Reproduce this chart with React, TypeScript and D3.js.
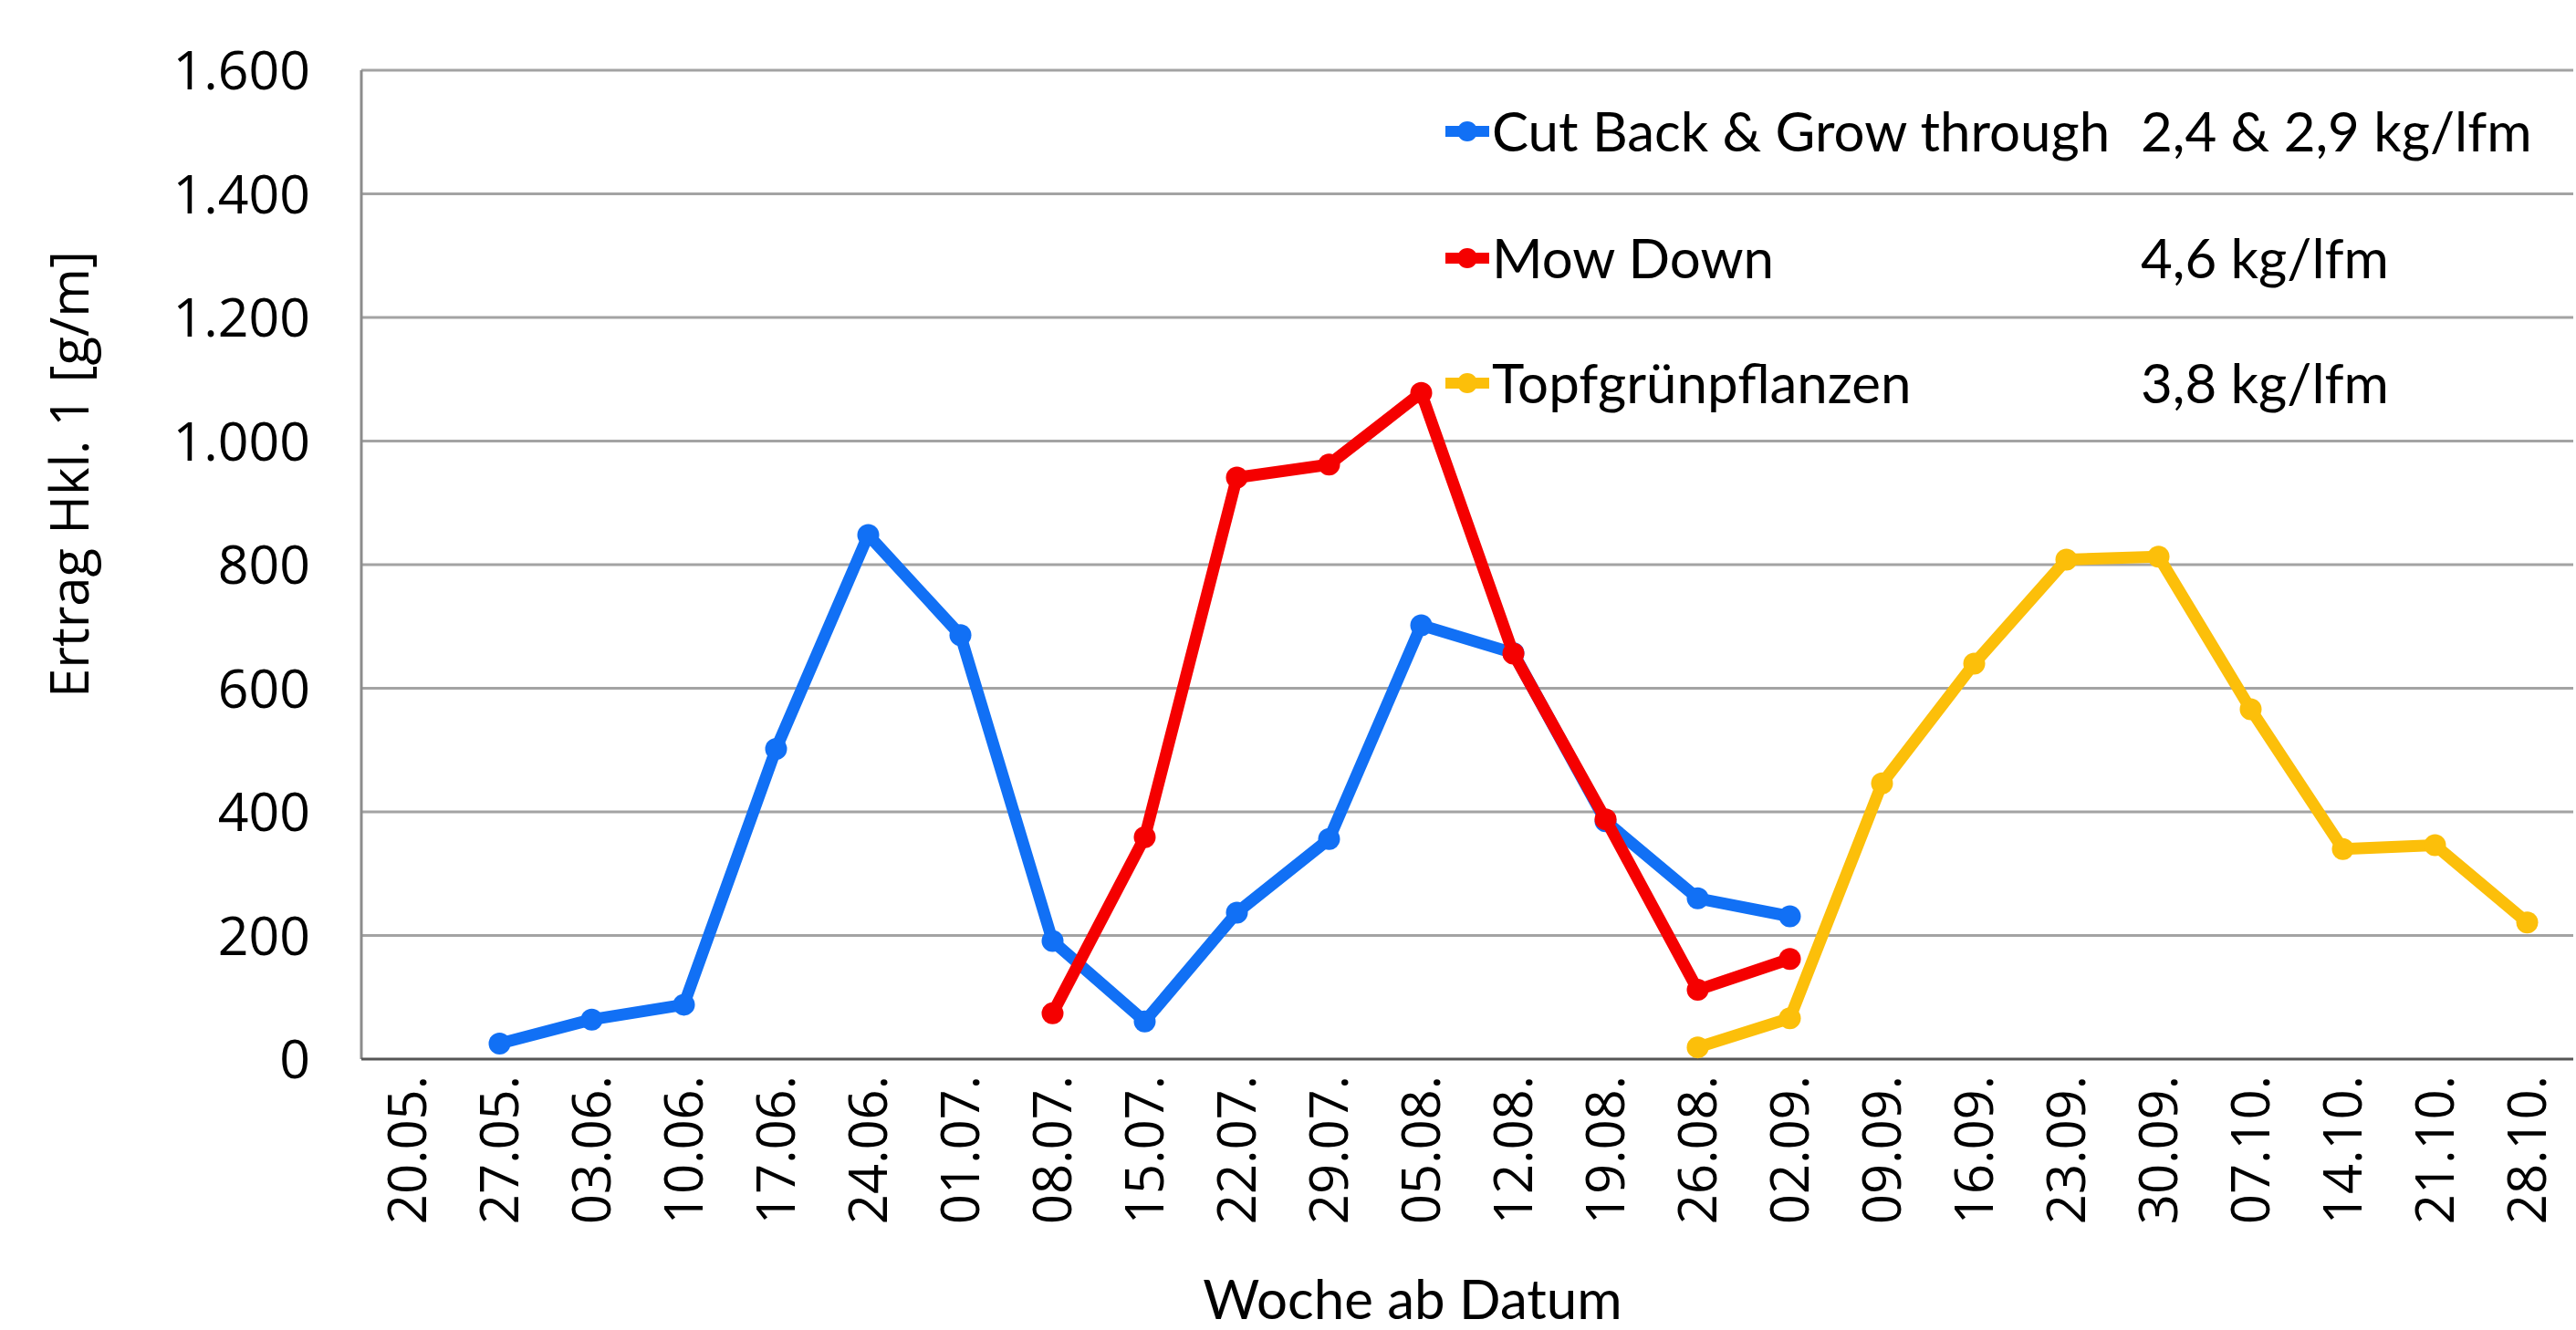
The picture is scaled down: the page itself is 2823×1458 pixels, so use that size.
import React, { useEffect, useRef } from 'react';
import * as d3 from 'd3';

const categories = [
  '20.05.', '27.05.', '03.06.', '10.06.', '17.06.', '24.06.', '01.07.', '08.07.',
  '15.07.', '22.07.', '29.07.', '05.08.', '12.08.', '19.08.', '26.08.', '02.09.',
  '09.09.', '16.09.', '23.09.', '30.09.', '07.10.', '14.10.', '21.10.', '28.10.',
];

const cutBack: (number | null)[] = [
  null, 25, 64, 88, 502, 848, 686, 191, 61, 237, 356, 702, 657, 385, 260, 231,
  null, null, null, null, null, null, null, null,
];

const mowDown: (number | null)[] = [
  null, null, null, null, null, null, null, 74, 359, 941, 962, 1078, 656, 388, 112, 162,
  null, null, null, null, null, null, null, null,
];

const topfgruen: (number | null)[] = [
  null, null, null, null, null, null, null, null, null, null, null, null, null, null,
  19, 66, 446, 640, 808, 813, 566, 340, 346, 221,
];

const yTicks = [0, 200, 400, 600, 800, 1000, 1200, 1400, 1600];

const seriesNames = ['Cut Back & Grow through', 'Mow Down', 'Topfgrünpflanzen'];
const seriesYields = ['2,4 & 2,9 kg/lfm', '4,6 kg/lfm', '3,8 kg/lfm'];
const seriesColors = ['#1170f5', '#f50000', '#fcbf0a'];

const W = 2823;
const H = 1458;

const App: React.FC = () => {
  const svgRef = useRef<SVGSVGElement>(null);

  useEffect(() => {
    if (!svgRef.current) return;
    const svg = d3.select(svgRef.current);
    svg.selectAll('*').remove();

    const margin = { top: 77, right: 3, bottom: 297, left: 396 };
    const innerWidth = W - margin.left - margin.right;
    const innerHeight = H - margin.top - margin.bottom;

    const x = d3.scaleBand<string>().domain(categories).range([0, innerWidth]);
    const y = d3.scaleLinear().domain([0, 1600]).range([innerHeight, 0]);
    const cx = (i: number) => (x(categories[i]) ?? 0) + x.bandwidth() / 2;

    const g = svg.append('g').attr('transform', `translate(${margin.left},${margin.top})`);

    // Grid lines
    g.append('g')
      .selectAll('line')
      .data(yTicks.filter(t => t > 0))
      .enter()
      .append('line')
      .attr('x1', 0)
      .attr('x2', innerWidth)
      .attr('y1', d => y(d))
      .attr('y2', d => y(d))
      .attr('stroke', '#a3a3a3')
      .attr('stroke-width', 3);

    // Axes lines
    g.append('line')
      .attr('x1', 0).attr('x2', 0)
      .attr('y1', 0).attr('y2', innerHeight)
      .attr('stroke', '#8c8c8c').attr('stroke-width', 3);
    g.append('line')
      .attr('x1', 0).attr('x2', innerWidth)
      .attr('y1', innerHeight).attr('y2', innerHeight)
      .attr('stroke', '#555').attr('stroke-width', 3);

    // Y tick labels
    g.append('g')
      .selectAll('text')
      .data(yTicks)
      .enter()
      .append('text')
      .attr('x', -56)
      .attr('y', d => y(d))
      .attr('dy', '0.36em')
      .attr('text-anchor', 'end')
      .style('font-family', '"Open Sans", sans-serif')
      .style('font-size', '59px')
      .attr('fill', '#000')
      .text(d => d3.format(',')(d).replace(/,/g, '.'));

    // X tick labels
    g.append('g')
      .selectAll('text')
      .data(categories)
      .enter()
      .append('text')
      .attr('transform', (_, i) => `translate(${cx(i)},${innerHeight + 18}) rotate(-90)`)
      .attr('text-anchor', 'end')
      .attr('dy', '0.36em')
      .style('font-family', '"Open Sans", sans-serif')
      .style('font-size', '58px')
      .attr('fill', '#000')
      .text(d => d);

    // Axis titles
    svg.append('text')
      .attr('transform', `translate(76,520) rotate(-90)`)
      .attr('text-anchor', 'middle')
      .attr('dy', '0.36em')
      .style('font-family', '"Open Sans", sans-serif')
      .style('font-size', '58px')
      .text('Ertrag Hkl. 1 [g/m]');

    svg.append('text')
      .attr('x', 1548)
      .attr('y', 1424)
      .attr('text-anchor', 'middle')
      .attr('dy', '0.36em')
      .style('font-family', 'Lato, sans-serif')
      .style('font-size', '60px')
      .text('Woche ab Datum');

    // Series
    const allSeries = [cutBack, mowDown, topfgruen];
    allSeries.forEach((values, s) => {
      const line = d3.line<number | null>()
        .defined(d => d !== null)
        .x((_, i) => cx(i))
        .y(d => y(d as number));

      g.append('path')
        .datum(values)
        .attr('fill', 'none')
        .attr('stroke', seriesColors[s])
        .attr('stroke-width', 13)
        .attr('stroke-linejoin', 'round')
        .attr('d', line);

      g.append('g')
        .selectAll('circle')
        .data(values.map((v, i) => ({ v, i })).filter(d => d.v !== null))
        .enter()
        .append('circle')
        .attr('cx', d => cx(d.i))
        .attr('cy', d => y(d.v as number))
        .attr('r', 12)
        .attr('fill', seriesColors[s]);
    });

    // Legend
    const legend = svg.append('g');
    const rowY = [144, 283, 420];
    seriesNames.forEach((name, s) => {
      const row = legend.append('g').attr('transform', `translate(0,${rowY[s]})`);
      row.append('line')
        .attr('x1', 1584).attr('x2', 1632)
        .attr('y1', 0).attr('y2', 0)
        .attr('stroke', seriesColors[s])
        .attr('stroke-width', 12);
      row.append('circle')
        .attr('cx', 1608).attr('cy', 0).attr('r', 11)
        .attr('fill', seriesColors[s]);
      row.append('text')
        .attr('x', 1635).attr('y', 0)
        .attr('dy', '0.36em')
        .style('font-family', 'Lato, sans-serif')
        .style('font-size', '60px')
        .text(name);
      row.append('text')
        .attr('x', 2346).attr('y', 0)
        .attr('dy', '0.36em')
        .style('font-family', 'Lato, sans-serif')
        .style('font-size', '60px')
        .text(seriesYields[s]);
    });
  }, []);

  return (
    <svg
      ref={svgRef}
      width={W}
      height={H}
      style={{ position: 'absolute', left: 0, top: 0, background: '#fff' }}
    />
  );
};

export default App;
